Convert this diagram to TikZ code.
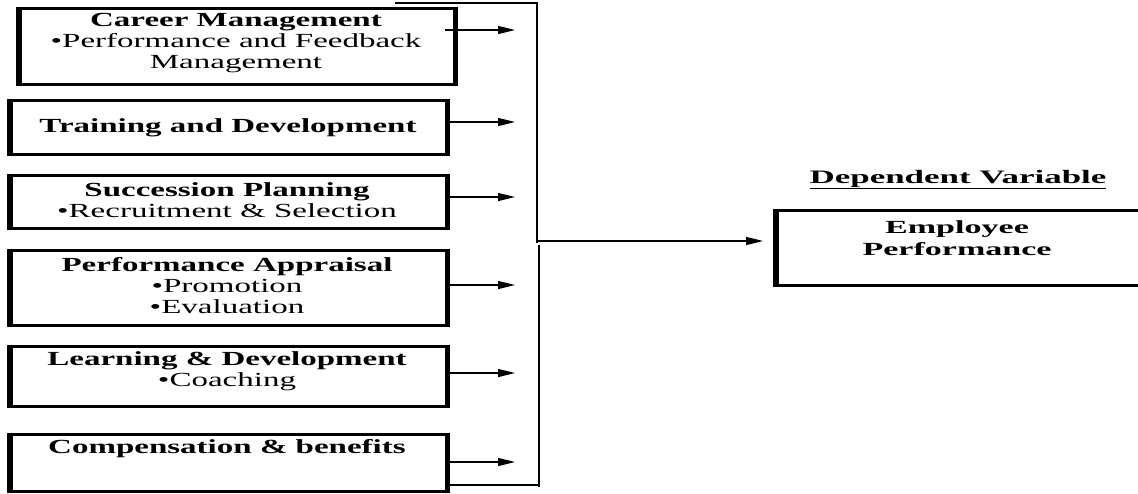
\documentclass[tikz,border=0pt]{standalone}
\usepackage{fontspec}
\setmainfont{Liberation Serif}
\newfontfamily\boxfont[FakeStretch=1.65]{Liberation Serif}
\newfontfamily\dvfont[FakeStretch=1.84]{Liberation Serif}
\usetikzlibrary{arrows.meta}
\begin{document}
\begin{tikzpicture}[x=1pt,y=-1pt,
  boxshape/.style={draw, line width=3pt, inner sep=0pt, anchor=north west},
  side/.style={line width=5pt},
  btxt/.style={align=center, inner sep=0pt, font=\boxfont\fontsize{20}{21}\selectfont},
  conn/.style={line width=1.2pt},
  arr/.style={line width=1.2pt, -{Triangle[length=17pt,width=8pt]}}
]
\useasboundingbox (0,0) rectangle (1138,493);
\clip (0,0) rectangle (1138,493);

% boxes
\node[boxshape, minimum width=434pt, minimum height=76pt] (b1) at (18.5,6.5) {};
\node[boxshape, minimum width=435pt, minimum height=54pt] (b2) at (9.5,98.5) {};
\node[boxshape, minimum width=435pt, minimum height=53pt] (b3) at (9.5,173.5) {};
\node[boxshape, minimum width=435pt, minimum height=75pt] (b4) at (9.5,248.5) {};
\node[boxshape, minimum width=435pt, minimum height=60pt] (b5) at (9.5,344.5) {};
\node[boxshape, minimum width=435pt, minimum height=57pt] (b6) at (9.5,432.5) {};
\node[boxshape, minimum width=430pt, minimum height=75pt] (ep) at (775.5,208.5) {};

\foreach \b in {b1,b2,b3,b4,b5,b6}{
  \draw[side] (\b.north west) -- (\b.south west);
  \draw[side] (\b.north east) -- (\b.south east);
}
\draw[side] (ep.north west) -- (ep.south west);

% texts
\node[btxt] (t1) at (236,43) {\textbf{Career Management}\\•Performance and Feedback\\Management};
\node[btxt] (t2) at (228,128) {\textbf{Training and Development}};
\node[btxt] (t3) at (227,200) {\textbf{Succession Planning}\\•Recruitment \& Selection};
\node[btxt] (t4) at (227,286) {\textbf{Performance Appraisal}\\•Promotion\\•Evaluation};
\node[btxt] (t5) at (227,371) {\textbf{Learning \& Development}\\•Coaching};
\node[btxt] (t6) at (227,449) {\textbf{Compensation \& benefits}};

\node[inner sep=0pt, anchor=base, font=\dvfont\bfseries\fontsize{19}{20}\selectfont] (dv) at (958,183) {\underline{Dependent Variable}};
\node[inner sep=0pt, align=center, font=\dvfont\bfseries\fontsize{18.5}{22}\selectfont] (eptxt) at (957,238) {Employee\\Performance};

% arrow coordinates
\coordinate (s1) at (445,30);
\coordinate (e1) at (515,30);
\coordinate (s2) at (447,122);
\coordinate (e2) at (515,122);
\coordinate (s3) at (447,197);
\coordinate (e3) at (515,197);
\coordinate (s4) at (447,285);
\coordinate (e4) at (515,285);
\coordinate (s5) at (447,373);
\coordinate (e5) at (515,373);
\coordinate (s6) at (447,462);
\coordinate (e6) at (515,462);
\foreach \i in {1,...,6}{\draw[arr] (s\i) -- (e\i);}

% bracket
\coordinate (tl) at (395,3);
\coordinate (tr) at (537,3);
\coordinate (mu) at (537,243);
\coordinate (mid) at (537,241);
\coordinate (ml) at (539,245);
\coordinate (br) at (539,487);
\coordinate (bl) at (448,485);
\coordinate (brr) at (539,485);
\coordinate (tip) at (763,241);
\draw[conn] (tl) -- (tr) -- (mu);
\draw[conn] (ml) -- (br);
\draw[conn] (bl) -- (brr);
\draw[arr] (mid) -- (tip);
\end{tikzpicture}
\end{document}
